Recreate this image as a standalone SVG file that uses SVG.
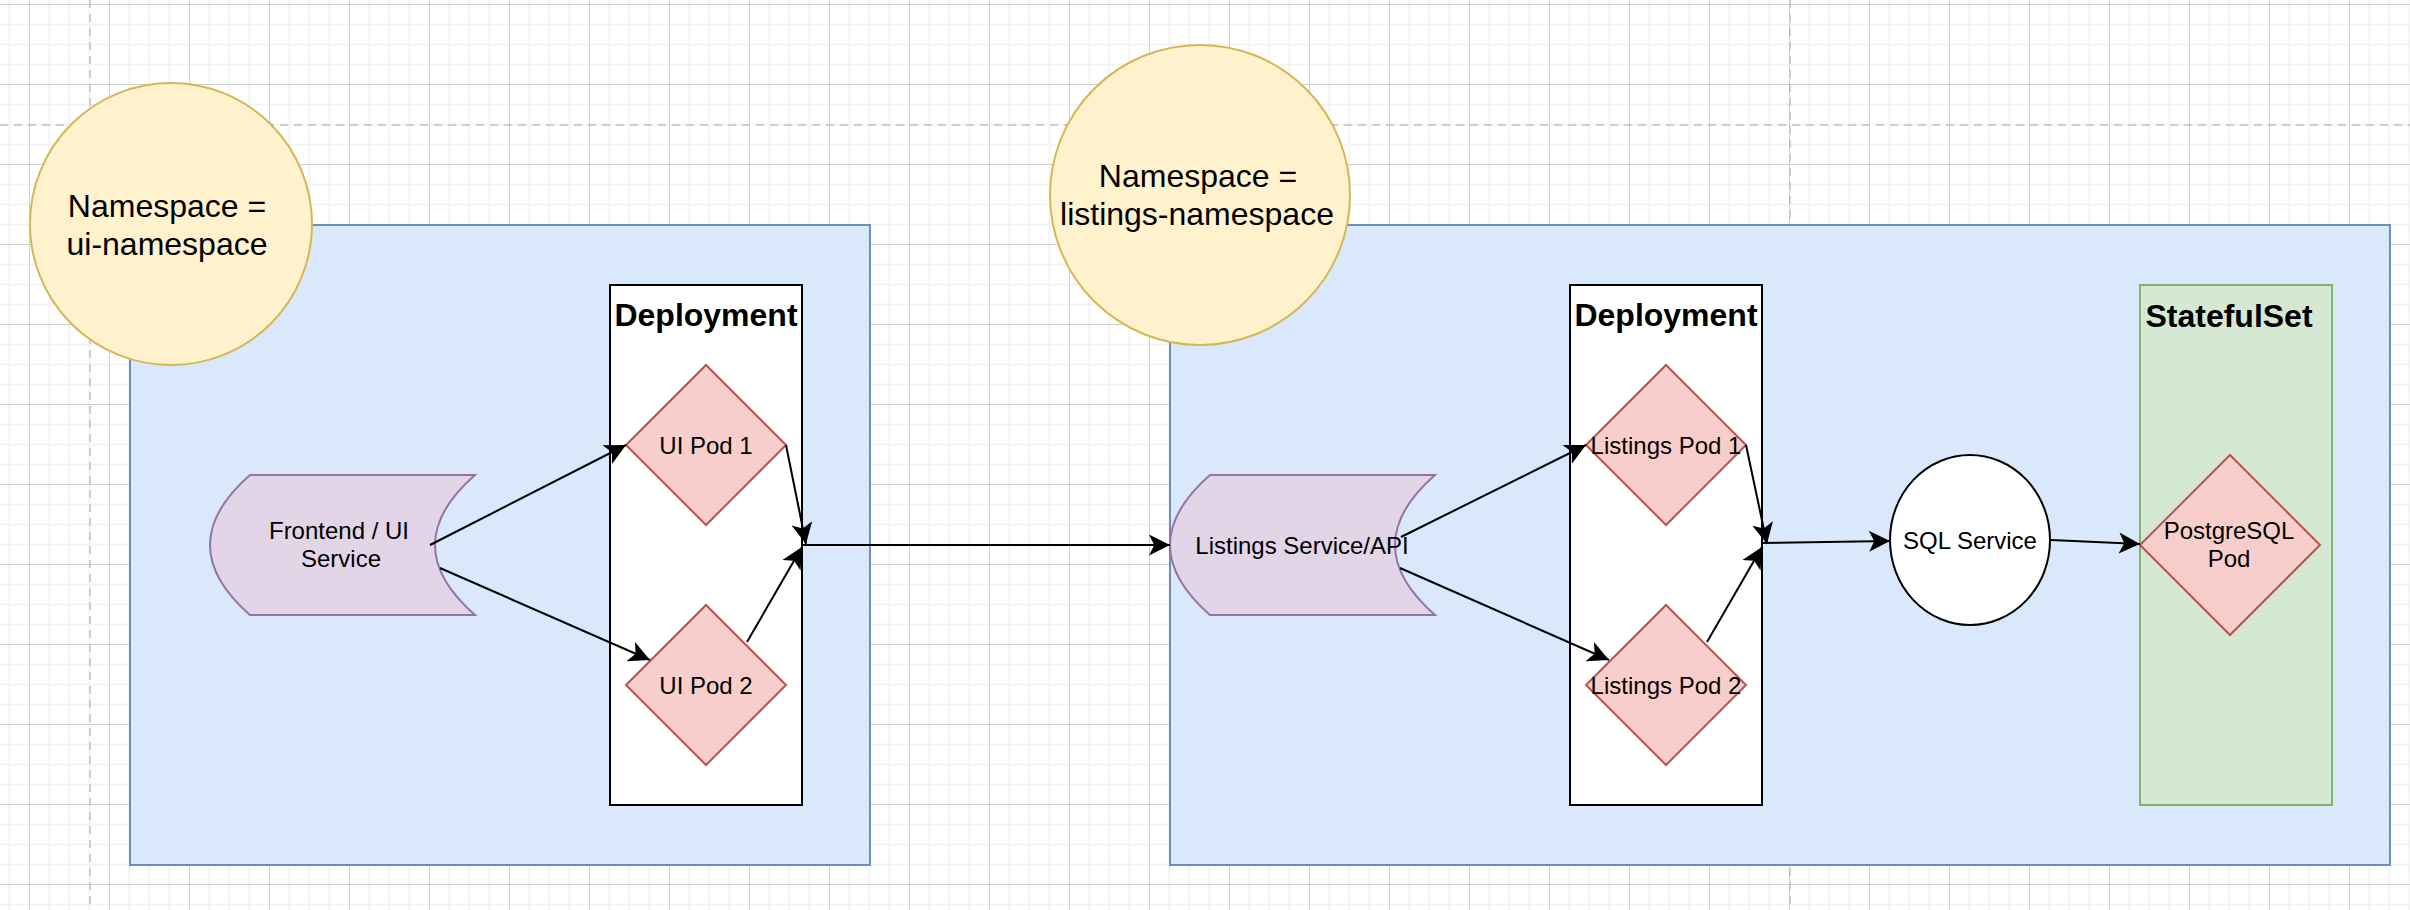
<svg xmlns="http://www.w3.org/2000/svg" width="2410" height="910" viewBox="0 0 2410 910">
  <style>
    text { font-family: "Liberation Sans", Arial, Helvetica, sans-serif; fill: #000; text-anchor: middle; }
    .ns { font-size: 32px; }
    .hdr { font-size: 32px; font-weight: bold; }
    .lbl { font-size: 24px; }
    .nsbox { fill: #dae8fc; stroke: #6c8ebf; stroke-width: 2; }
    .nscirc { fill: #fff2cc; stroke: #d6b656; stroke-width: 2; }
    .deploy { fill: #ffffff; stroke: #000000; stroke-width: 2; }
    .sts { fill: #d5e8d4; stroke: #82b366; stroke-width: 2; }
    .pod { fill: #f8cecc; stroke: #b85450; stroke-width: 2; }
    .svc { fill: #e1d5e7; stroke: #9673a6; stroke-width: 2; }
    .sql { fill: #ffffff; stroke: #000000; stroke-width: 2; }
    .edge { fill: none; stroke: #000000; stroke-width: 2; marker-end: url(#arrow); }
    .page { fill: none; stroke: #c0c0c0; stroke-width: 1.5; stroke-dasharray: 8 6; }
  </style>
  <defs>
    <pattern id="grid" patternUnits="userSpaceOnUse" x="29" y="4" width="80" height="80">
      <path d="M20.5,0 V80 M40.5,0 V80 M60.5,0 V80 M0,20.5 H80 M0,40.5 H80 M0,60.5 H80" stroke="#f3f3f3" stroke-width="2" fill="none"/>
      <path d="M0.5,0 V80 M0,0.5 H80" stroke="#d0d0d0" stroke-width="1" fill="none"/>
    </pattern>
    <marker id="arrow" viewBox="-22 -11 23 22" markerWidth="23" markerHeight="22" refX="0" refY="0" orient="auto" markerUnits="userSpaceOnUse">
      <path d="M0,0 L-21,-10.5 L-15.75,0 L-21,10.5 Z" fill="#000000"/>
    </marker>
  </defs>

  <!-- background -->
  <rect x="0" y="0" width="2410" height="910" fill="#ffffff"/>
  <rect x="0" y="0" width="2410" height="910" fill="url(#grid)"/>
  <path class="page" d="M90,0 V910 M1790,0 V910 M0,125 H2410"/>

  <!-- namespace boxes -->
  <g id="ui-namespace-box">
    <rect class="nsbox" x="130" y="225" width="740" height="640"/>
  </g>
  <g id="listings-namespace-box">
    <rect class="nsbox" x="1170" y="225" width="1220" height="640"/>
  </g>

  <!-- namespace labels -->
  <g id="ui-namespace-label">
    <circle class="nscirc" cx="171" cy="224" r="141"/>
    <text class="ns" x="167" y="217">Namespace =</text>
    <text class="ns" x="167" y="255">ui-namespace</text>
  </g>
  <g id="listings-namespace-label">
    <circle class="nscirc" cx="1200" cy="195" r="150"/>
    <text class="ns" x="1198" y="187">Namespace =</text>
    <text class="ns" x="1197" y="225">listings-namespace</text>
  </g>

  <!-- containers -->
  <g id="ui-deployment">
    <rect class="deploy" x="610" y="285" width="192" height="520"/>
    <text class="hdr" x="706" y="326">Deployment</text>
  </g>
  <g id="listings-deployment">
    <rect class="deploy" x="1570" y="285" width="192" height="520"/>
    <text class="hdr" x="1666" y="326">Deployment</text>
  </g>
  <g id="statefulset">
    <rect class="sts" x="2140" y="285" width="192" height="520"/>
    <text class="hdr" x="2229" y="327">StatefulSet</text>
  </g>

  <!-- services -->
  <g id="frontend-service">
    <path class="svc" d="M250,475 L475,475 Q395,545 475,615 L250,615 Q170,545 250,475 Z"/>
    <text class="lbl" x="339" y="539">Frontend / UI</text>
    <text class="lbl" x="341" y="567">Service</text>
  </g>
  <g id="listings-service">
    <path class="svc" d="M1210,475 L1435,475 Q1355,545 1435,615 L1210,615 Q1130,545 1210,475 Z"/>
    <text class="lbl" x="1302" y="554">Listings Service/API</text>
  </g>
  <g id="sql-service">
    <ellipse class="sql" cx="1970" cy="540" rx="80" ry="85"/>
    <text class="lbl" x="1970" y="549">SQL Service</text>
  </g>

  <!-- pods -->
  <g id="ui-pod-1">
    <polygon class="pod" points="706,365 786,445 706,525 626,445"/>
    <text class="lbl" x="706" y="454">UI Pod 1</text>
  </g>
  <g id="ui-pod-2">
    <polygon class="pod" points="706,605 786,685 706,765 626,685"/>
    <text class="lbl" x="706" y="694">UI Pod 2</text>
  </g>
  <g id="listings-pod-1">
    <polygon class="pod" points="1666,365 1746,445 1666,525 1586,445"/>
    <text class="lbl" x="1666" y="454">Listings Pod 1</text>
  </g>
  <g id="listings-pod-2">
    <polygon class="pod" points="1666,605 1746,685 1666,765 1586,685"/>
    <text class="lbl" x="1666" y="694">Listings Pod 2</text>
  </g>
  <g id="postgresql-pod">
    <polygon class="pod" points="2230,455 2320,545 2230,635 2140,545"/>
    <text class="lbl" x="2229" y="539">PostgreSQL</text>
    <text class="lbl" x="2229" y="567">Pod</text>
  </g>

  <!-- connectors -->
  <g id="connectors">
    <line class="edge" x1="430" y1="545" x2="626" y2="445"/>
    <line class="edge" x1="440" y1="568" x2="650" y2="660"/>
    <line class="edge" x1="786" y1="445" x2="806" y2="544"/>
    <line class="edge" x1="747" y1="642" x2="802" y2="547"/>
    <line class="edge" x1="802" y1="545" x2="1170" y2="545"/>
    <line class="edge" x1="1401" y1="537" x2="1586" y2="445"/>
    <line class="edge" x1="1400" y1="568" x2="1609" y2="660"/>
    <line class="edge" x1="1746" y1="445" x2="1767" y2="544"/>
    <line class="edge" x1="1707" y1="642" x2="1762" y2="547"/>
    <line class="edge" x1="1762" y1="543" x2="1890" y2="541"/>
    <line class="edge" x1="2051" y1="540" x2="2140" y2="544"/>
  </g>
</svg>
